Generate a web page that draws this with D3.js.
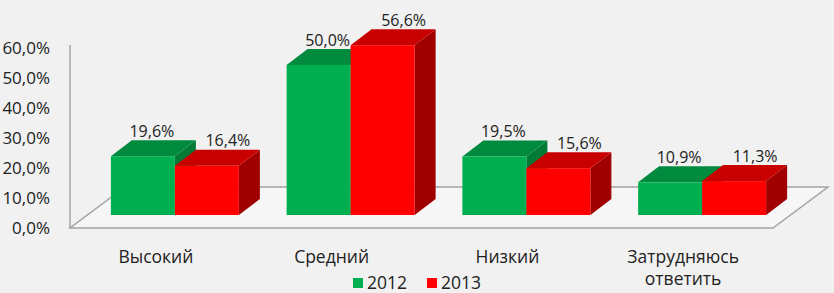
<!DOCTYPE html>
<html>
<head>
<meta charset="utf-8">
<script src="https://cdn.jsdelivr.net/npm/d3@7"></script>
<style>
  html, body { margin: 0; padding: 0; background: #f1f1f1; }
  svg { display: block; font-family: "Open Sans", sans-serif; }
</style>
</head>
<body>
<svg id="chart"></svg>
<script>
const categories = ["Высокий", "Средний", "Низкий", "Затрудняюсь ответить"];
const years = ["2012", "2013"];
const values2012 = [19.6, 50.0, 19.5, 10.9];
const values2013 = [16.4, 56.6, 15.6, 11.3];
const yTicks = [0, 10, 20, 30, 40, 50, 60];

const width = 834;
const height = 293;

// front plane of the floor
const left = 70, right = 773, base = 228;
const floorDepth = {dx: 55, dy: -41};
const barOff = {dx: 17, dy: -13};
const barDepth = {dx: 21, dy: -16};
const barW = 64;

const colors = {
  "2012": {front: "#00b050", top: "#008a3e", side: "#007a35"},
  "2013": {front: "#ff0000", top: "#c80000", side: "#a00000"}
};

const series = years.map((yr, i) => ({
  key: yr,
  values: [values2012, values2013][i]
}));

const svg = d3.select("#chart")
  .attr("width", width)
  .attr("height", height)
  .attr("viewBox", [0, 0, width, height]);

svg.append("rect").attr("width", width).attr("height", height).attr("fill", "#f1f1f1");

const x0 = d3.scaleBand().domain(categories).range([left, right]).padding(0);
const x1 = d3.scaleBand().domain(years)
  .range([x0.bandwidth() / 2 - barW, x0.bandwidth() / 2 + barW]);
const y = d3.scaleLinear().domain([0, 60]).range([base, 48]);

// floor
const fl = [[left, base], [right, base],
  [right + floorDepth.dx, base + floorDepth.dy], [left + floorDepth.dx, base + floorDepth.dy]];
svg.append("polygon")
  .attr("points", fl.map(p => p.join(",")).join(" "))
  .attr("fill", "#f6f6f6")
  .attr("stroke", "#a3a3a3")
  .attr("stroke-width", 1.5);

// vertical axis
svg.append("line")
  .attr("x1", left).attr("x2", left)
  .attr("y1", base).attr("y2", y(60) - 3)
  .attr("stroke", "#a3a3a3").attr("stroke-width", 1.5);

svg.append("g")
  .selectAll("text")
  .data(yTicks)
  .join("text")
  .attr("x", 50)
  .attr("y", d => y(d))
  .attr("dy", "0.36em")
  .attr("text-anchor", "end")
  .attr("font-size", 17)
  .attr("fill", "#222")
  .text(d => d3.format(".1f")(d).replace(".", ",") + "%");

// bars
const pts = arr => arr.map(p => p.join(",")).join(" ");
const bars = svg.append("g");
categories.forEach((c, ci) => {
  series.forEach(s => {
    const v = s.values[ci];
    const xl = x0(c) + x1(s.key) + barOff.dx;
    const xr = xl + barW;
    const yb = base + barOff.dy;
    const yt = y(v) + barOff.dy;
    const dx = barDepth.dx, dy = barDepth.dy;
    const g = bars.append("g");
    g.append("polygon")
      .attr("points", pts([[xr, yb], [xr, yt], [xr + dx, yt + dy], [xr + dx, yb + dy]]))
      .attr("fill", colors[s.key].side);
    g.append("polygon")
      .attr("points", pts([[xl, yt], [xr, yt], [xr + dx, yt + dy], [xl + dx, yt + dy]]))
      .attr("fill", colors[s.key].top);
    g.append("rect")
      .attr("x", xl).attr("y", yt)
      .attr("width", barW).attr("height", yb - yt)
      .attr("fill", colors[s.key].front);
  });
});

// value labels
const labelShift = {"2012": 9, "2013": 21};
const labels = svg.append("g");
categories.forEach((c, ci) => {
  series.forEach(s => {
    const v = s.values[ci];
    labels.append("text")
      .attr("x", x0(c) + x1(s.key) + barOff.dx + barW / 2 + labelShift[s.key])
      .attr("y", y(v) + barOff.dy + barDepth.dy - 3.5)
      .attr("text-anchor", "middle")
      .attr("font-size", 16)
      .attr("fill", "#222")
      .text(d3.format(".1f")(v).replace(".", ",") + "%");
  });
});

// category labels
svg.append("g")
  .selectAll("text")
  .data(categories)
  .join("text")
  .attr("x", d => x0(d) + x0.bandwidth() / 2 - 2)
  .attr("y", 263)
  .attr("text-anchor", "middle")
  .attr("font-size", 17.5)
  .attr("fill", "#222")
  .each(function(d) {
    const words = d.split(" ");
    d3.select(this).selectAll("tspan")
      .data(words)
      .join("tspan")
      .attr("x", d3.select(this).attr("x"))
      .attr("dy", (w, i) => i ? 22 : 0)
      .text(w => w);
  });

// legend
const legend = svg.append("g");
const legX = [353, 427];
years.forEach((yr, i) => {
  legend.append("rect")
    .attr("x", legX[i]).attr("y", 278)
    .attr("width", 10).attr("height", 10)
    .attr("fill", colors[yr].front);
  legend.append("text")
    .attr("x", legX[i] + 14).attr("y", 288.5)
    .attr("font-size", 17.5)
    .attr("fill", "#222")
    .text(yr);
});
</script>
</body>
</html>
